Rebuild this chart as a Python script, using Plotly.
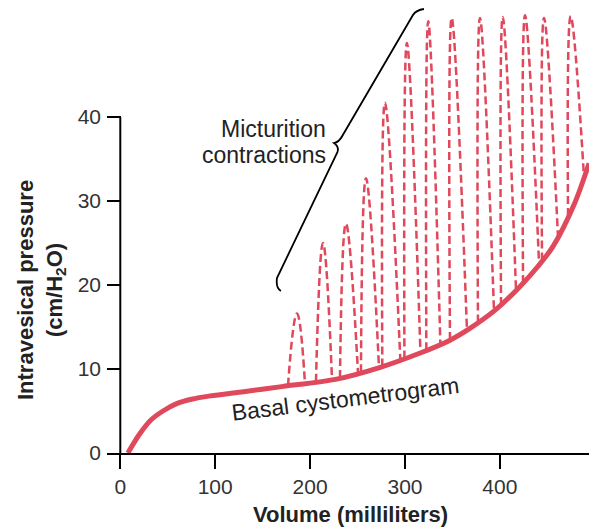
import plotly.graph_objects as go

# ---- Data ----
x_ticks = [0, 100, 200, 300, 400]
y_ticks = [0, 10, 20, 30, 40]

# Basal cystometrogram (solid curve)
basal_volume = [8, 20, 32, 45, 60, 75, 95, 130, 170, 228, 274, 316, 347, 368, 395, 421, 440, 456, 479, 494]
basal_pressure = [0, 2.2, 3.9, 5.0, 5.9, 6.4, 6.8, 7.3, 7.9, 8.8, 10.2, 11.9, 13.4, 14.8, 17.0, 19.8, 22.2, 24.6, 29.8, 34.5]

# Micturition contractions (dashed spikes): start, peak, end of each contraction
spike_start_volume = [176.7, 206.2, 231.5, 253.6, 276.1, 299.4, 322.5, 347.4, 376.9, 401.2, 424.4, 444.4, 471.8]
spike_start_pressure = [8.0, 8.46, 8.9, 9.6, 10.28, 11.23, 12.2, 13.42, 15.5, 17.6, 20.2, 22.9, 28.2]
spike_peak_volume = [186.2, 213.6, 237.8, 258.9, 278.9, 302.0, 324.5, 349.2, 379.0, 403.0, 426.5, 446.5, 474.6]
spike_peak_pressure = [16.6, 25.0, 27.3, 32.7, 41.7, 48.8, 51.4, 51.8, 51.8, 51.9, 52.1, 51.8, 52.0]
spike_end_volume = [194.6, 223.1, 250.5, 272.6, 295.1, 316.3, 337.3, 365.3, 393.8, 417.0, 441.3, 461.2, 488.6]
spike_end_pressure = [8.28, 8.72, 9.5, 10.15, 11.05, 11.9, 12.93, 14.62, 16.9, 19.37, 22.4, 25.8, 32.9]

RED = "#E0485C"
FONT = "Liberation Sans, Arial, Helvetica, sans-serif"

dash_x, dash_y = [], []
for i in range(len(spike_peak_volume)):
    dash_x += [spike_start_volume[i], spike_peak_volume[i], spike_end_volume[i], None]
    dash_y += [spike_start_pressure[i], spike_peak_pressure[i], spike_end_pressure[i], None]

fig = go.Figure()
fig.add_trace(go.Scatter(
    x=dash_x, y=dash_y, mode="lines",
    line=dict(color=RED, width=2.5, dash="8px,4px", shape="spline", smoothing=1.3),
    hoverinfo="skip", name="Micturition contractions"))
fig.add_trace(go.Scatter(
    x=basal_volume, y=basal_pressure, mode="lines",
    line=dict(color=RED, width=5, shape="spline", smoothing=0.8),
    name="Basal cystometrogram"))

# y-axis line only up to 40
fig.add_shape(type="line", xref="x", yref="y", x0=0, x1=0, y0=0, y1=40,
              line=dict(color="black", width=2))

# curly brace
brace = ("M 169.3,19.29 Q 163.7,19.6 165.1,20.83 L 228.8,35.83 "
         "Q 230.9,36.43 225.2,36.9 Q 230.5,37.02 233.9,37.74 "
         "L 308.4,52.14 Q 311.6,52.74 320.0,52.86")
fig.add_shape(type="path", xref="x", yref="y", path=brace,
              line=dict(color="black", width=1.8))

# text annotations
fig.add_annotation(x=218.9, y=38.57, xref="x", yref="y", text="Micturition",
                   showarrow=False, xanchor="right", yanchor="middle",
                   font=dict(size=23, color="#222", family=FONT))
fig.add_annotation(x=218.9, y=35.48, xref="x", yref="y", text="contractions",
                   showarrow=False, xanchor="right", yanchor="middle",
                   font=dict(size=23, color="#222", family=FONT))
fig.add_annotation(x=236.8, y=6.43, xref="x", yref="y", text="Basal cystometrogram",
                   showarrow=False, xanchor="center", yanchor="middle", textangle=-7,
                   font=dict(size=23, color="#222", family=FONT))
# axis titles
fig.add_annotation(x=243.1, y=-0.1348, xref="x", yref="paper",
                   text="<b>Volume (milliliters)</b>", showarrow=False,
                   xanchor="center", yanchor="middle",
                   font=dict(size=22, color="#222", family=FONT))
fig.add_annotation(x=-0.137, y=19.4, xref="paper", yref="y",
                   text="<b>Intravesical pressure<br>(cm/H<sub>2</sub>O)</b>",
                   showarrow=False, xanchor="center", yanchor="middle", textangle=-90,
                   font=dict(size=22, color="#222", family=FONT))

fig.update_layout(
    template="none",
    width=589, height=529,
    margin=dict(l=107, r=0, t=0, b=76, pad=0),
    plot_bgcolor="white", paper_bgcolor="white",
    showlegend=False,
    font=dict(family=FONT, size=21, color="#333"),
)
fig.update_xaxes(range=[-14.0, 493.9], showline=True, linecolor="black", linewidth=2,
                 ticks="outside", ticklen=14, tickwidth=2, tickcolor="black",
                 tickvals=x_ticks, showgrid=False, zeroline=False, automargin=False,
                 tickfont=dict(size=21, color="#333", family=FONT))
fig.update_yaxes(range=[0, 53.93], showline=False,
                 ticks="inside", ticklen=14, tickwidth=2, tickcolor="black",
                 tickvals=y_ticks, showgrid=False, zeroline=False, automargin=False,
                 ticklabelstandoff=5,
                 tickfont=dict(size=21, color="#333", family=FONT))

# remove the page's default body margin so the figure fills the window exactly
fig.write_html(
    "out.html",
    config={"displayModeBar": False},
    post_script="document.body.style.margin='0';"
                "document.body.style.overflow='hidden';"
                "document.documentElement.style.overflow='hidden';",
)
